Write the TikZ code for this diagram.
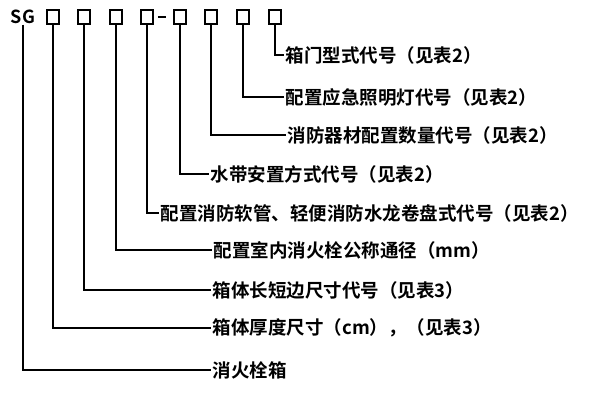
\documentclass[tikz,border=0pt]{standalone}
\usepackage{fontspec}
\newfontfamily\cjk[BoldFont={Noto Sans CJK SC Bold}]{Noto Sans CJK SC}
\begin{document}
\begin{tikzpicture}[x=1pt,y=-1pt,line width=1.5pt,
  bx/.style={draw,minimum width=12pt,minimum height=14pt,inner sep=0pt,line width=1.6pt},
  lab/.style={anchor=west,inner sep=1pt,font=\cjk\bfseries\fontsize{18.5}{18.5}\selectfont}]
\useasboundingbox[fill=white] (0,0) rectangle (600,400);
\node[font=\cjk\bfseries\fontsize{18}{18}\selectfont,inner sep=0pt] (sg) at (23,17) {SG};
\foreach \i/\x in {1/53,2/84,3/116,4/147,5/180,6/211,7/243,8/275}
  \node[bx] (b\i) at (\x,17) {};
\draw (b4.east) ++(4,0) coordinate (d1) -- ++(8,0) coordinate (d2);
\node[lab] (t8) at (284,55) {箱门型式代号（见表2）};
\node[lab] (t7) at (284,97) {配置应急照明灯代号（见表2）};
\node[lab] (t6) at (286,135) {消防器材配置数量代号（见表2）};
\node[lab] (t5) at (209,174) {水带安置方式代号（见表2）};
\node[lab] (t4) at (159,213) {配置消防软管、轻便消防水龙卷盘式代号（见表2）};
\node[lab] (t3) at (212,250) {配置室内消火栓公称通径（mm）};
\node[lab] (t2) at (211,290) {箱体长短边尺寸代号（见表3）};
\node[lab] (t1) at (211,328) {箱体厚度尺寸（cm），（见表3）};
\node[lab] (t0) at (211,370) {消火栓箱};
\foreach \b/\t in {b8/t8,b7/t7,b6/t6,b5/t5,b4/t4,b3/t3,b2/t2,b1/t1,sg/t0}
  \draw (\b.south) |- (\t.west);
\end{tikzpicture}
\end{document}
